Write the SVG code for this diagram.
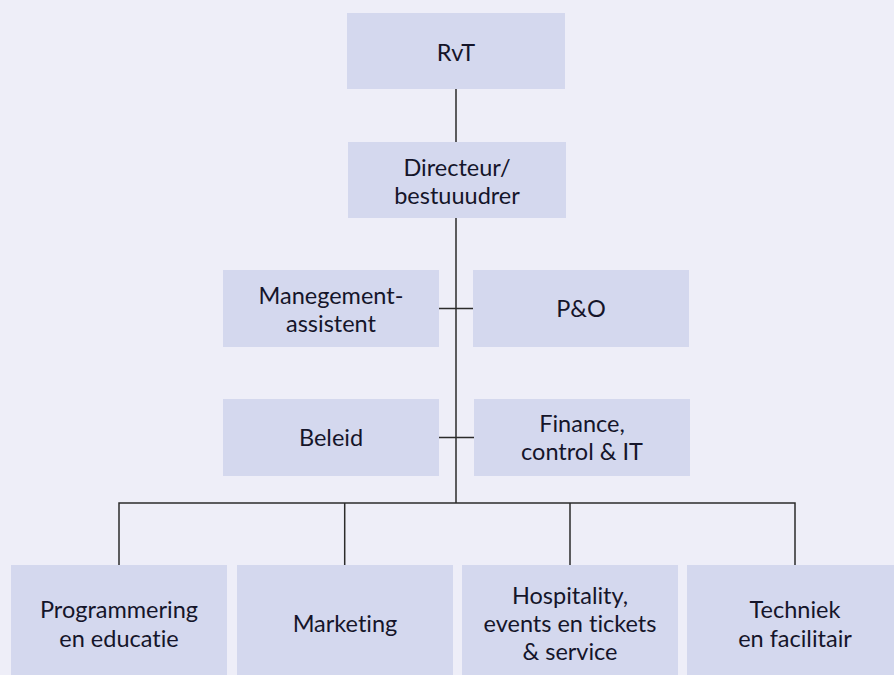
<svg xmlns="http://www.w3.org/2000/svg" width="894" height="675" viewBox="0 0 894 675">
<style>
.box{fill:#D4D8EE}
.t{font-family:Lato,"Noto Sans",sans-serif;font-size:23.5px;fill:#15152a;text-anchor:middle;font-variant-ligatures:none}
.c{stroke:#2b2b2b;stroke-width:1.5;fill:none}
</style>
<rect width="894" height="675" fill="#EEEEF8"/>
<g id="connectors">
<path class="c" d="M456 89V503M439 308.5H473M439 437.5H474M119 565V503H795V565M344.7 503V565M570 503V565"/>
</g>
<g id="rvt"><rect class="box" x="347" y="13" width="218" height="76"/><text class="t" x="456" y="61">RvT</text></g>
<g id="directeur"><rect class="box" x="348" y="142" width="218" height="76"/><text class="t" x="457" y="176">Directeur/</text><text class="t" x="457" y="204">bestuuudrer</text></g>
<g id="manegement"><rect class="box" x="223" y="270" width="216" height="77"/><text class="t" x="331" y="304">Manegement-</text><text class="t" x="331" y="332">assistent</text></g>
<g id="po"><rect class="box" x="473" y="270" width="216" height="77"/><text class="t" x="581" y="317">P&amp;O</text></g>
<g id="beleid"><rect class="box" x="223" y="399" width="216" height="77"/><text class="t" x="331" y="446">Beleid</text></g>
<g id="finance"><rect class="box" x="474" y="399" width="216" height="77"/><text class="t" x="582" y="432">Finance,</text><text class="t" x="582" y="460">control &amp; IT</text></g>
<g id="programmering"><rect class="box" x="11" y="565" width="216" height="120"/><text class="t" x="119" y="618">Programmering</text><text class="t" x="119" y="646.5">en educatie</text></g>
<g id="marketing"><rect class="box" x="237" y="565" width="216" height="120"/><text class="t" x="345" y="632">Marketing</text></g>
<g id="hospitality"><rect class="box" x="462" y="565" width="216" height="120"/><text class="t" x="570" y="603.5">Hospitality,</text><text class="t" x="570" y="632">events en tickets</text><text class="t" x="570" y="660">&amp; service</text></g>
<g id="techniek"><rect class="box" x="687" y="565" width="216" height="120"/><text class="t" x="795" y="618">Techniek</text><text class="t" x="795" y="646.5">en facilitair</text></g>
</svg>
